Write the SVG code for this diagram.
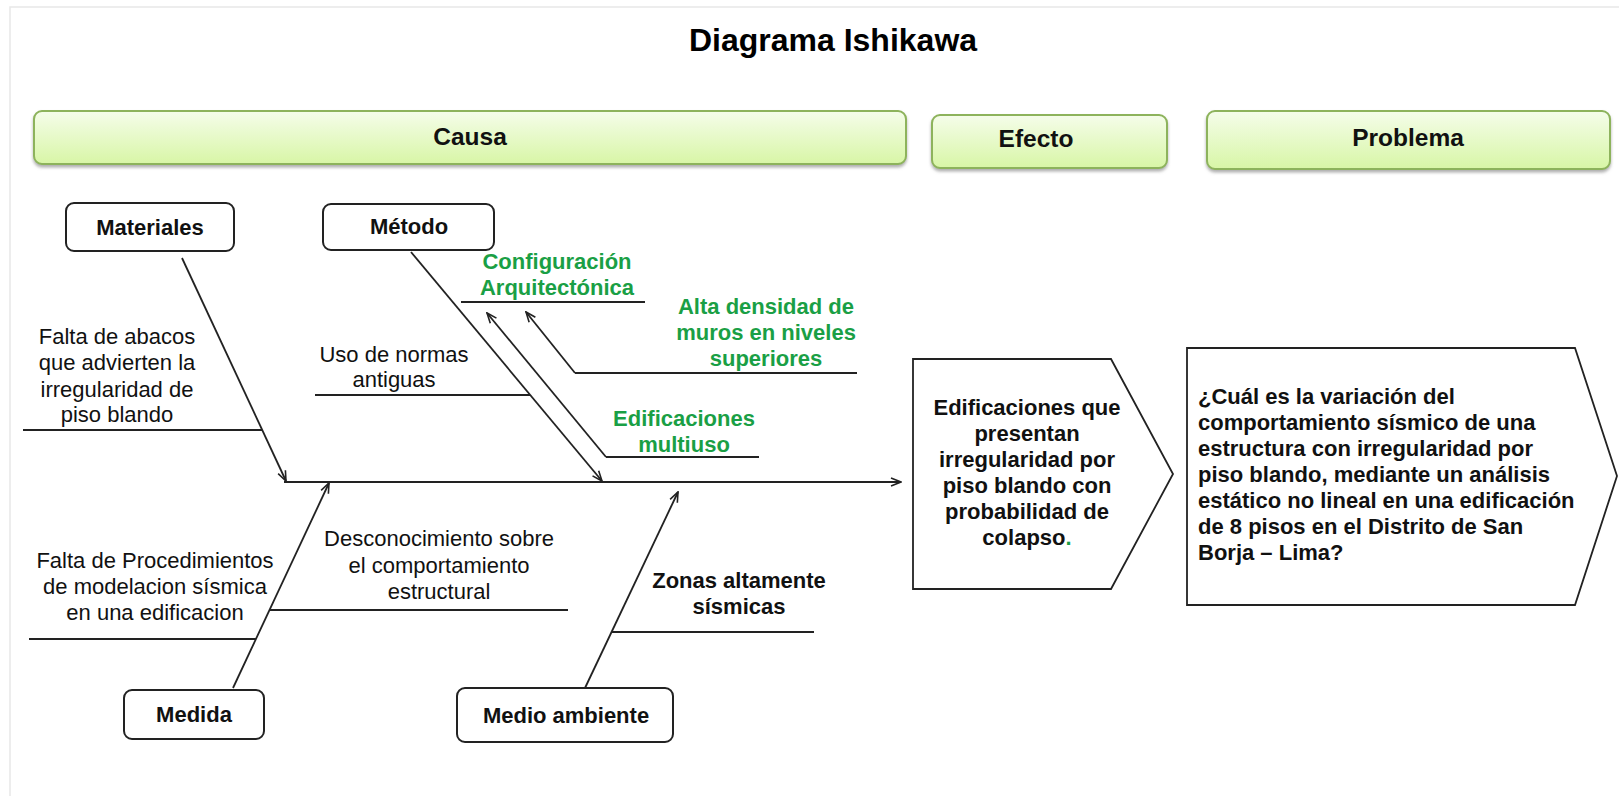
<svg xmlns="http://www.w3.org/2000/svg" width="1619" height="796" viewBox="0 0 1619 796">
  <style>
    text { font-family: "Liberation Sans", Arial, sans-serif; font-size: 22px; fill: #111; }
    .title { font-size: 32px; font-weight: bold; text-anchor: middle; fill: #000; }
    .head { font-size: 24.5px; font-weight: bold; text-anchor: middle; fill: #111; }
    .cat { font-weight: bold; text-anchor: middle; }
    .lbl { text-anchor: middle; }
    .lblb { text-anchor: middle; font-weight: bold; }
    .green { fill: #1a9f45; font-weight: bold; text-anchor: middle; }
    .eff { font-weight: bold; text-anchor: middle; }
    .prob { font-weight: bold; }
    .hbox { fill: url(#hgrad); stroke: #8db35b; stroke-width: 2; filter: url(#shadow); }
    .cbox { fill: #fff; stroke: #222; stroke-width: 2; }
    .shape { fill: #fff; stroke: #222; stroke-width: 1.8; }
    .bone { stroke: #222; stroke-width: 1.8; fill: none; marker-end: url(#arr); }
    .rule { stroke: #222; stroke-width: 1.8; fill: none; }
  </style>
  <defs>
    <linearGradient id="hgrad" x1="0" y1="0" x2="0" y2="1">
      <stop offset="0" stop-color="#f5fdea"/>
      <stop offset="1" stop-color="#d8f6a6"/>
    </linearGradient>
    <filter id="shadow" x="-5%" y="-20%" width="110%" height="160%">
      <feDropShadow dx="0" dy="2.5" stdDeviation="1.5" flood-color="#7a7a7a" flood-opacity="0.6"/>
    </filter>
    <marker id="arr" viewBox="0 0 12 10" refX="11" refY="5" markerWidth="12" markerHeight="10" markerUnits="userSpaceOnUse" orient="auto">
      <path d="M1,1 L11,5 L1,9" fill="none" stroke="#222" stroke-width="1.6"/>
    </marker>
  </defs>

  <rect width="1619" height="796" fill="#fff"/>
  <rect x="10" y="7" width="1620" height="800" fill="none" stroke="#e8e8e8" stroke-width="1.5"/>

  <text class="title" x="833" y="51">Diagrama Ishikawa</text>

  <!-- header bars -->
  <g id="causa">
    <rect class="hbox" x="34" y="111" width="872" height="53" rx="8"/>
    <text class="head" x="470" y="145">Causa</text>
  </g>
  <g id="efecto">
    <rect class="hbox" x="932" y="115" width="235" height="53" rx="8"/>
    <text class="head" x="1036" y="147">Efecto</text>
  </g>
  <g id="problema">
    <rect class="hbox" x="1207" y="111" width="403" height="58" rx="8"/>
    <text class="head" x="1408" y="146">Problema</text>
  </g>

  <!-- spine, bones and sub-cause rules -->
  <g id="connectors">
    <line class="bone" x1="284" y1="482" x2="901" y2="482"/>
    <line class="bone" x1="182" y1="258" x2="286" y2="481"/>
    <line class="bone" x1="411" y1="252" x2="602" y2="481"/>
    <line class="bone" x1="233" y1="688" x2="329" y2="483"/>
    <line class="bone" x1="585" y1="688" x2="678" y2="492"/>
    <line class="bone" x1="606" y1="457" x2="487" y2="313"/>
    <line class="bone" x1="575" y1="373" x2="526" y2="312"/>
    <line class="rule" x1="23" y1="430" x2="262" y2="430"/>
    <line class="rule" x1="315" y1="395" x2="530" y2="395"/>
    <line class="rule" x1="461" y1="302" x2="645" y2="302"/>
    <line class="rule" x1="575" y1="373" x2="857" y2="373"/>
    <line class="rule" x1="606" y1="457" x2="759" y2="457"/>
    <line class="rule" x1="29" y1="639" x2="256" y2="639"/>
    <line class="rule" x1="269" y1="610" x2="568" y2="610"/>
    <line class="rule" x1="611" y1="632" x2="814" y2="632"/>
  </g>

  <!-- category boxes -->
  <g id="materiales">
    <rect class="cbox" x="66" y="203" width="168" height="48" rx="8"/>
    <text class="cat" x="150" y="235">Materiales</text>
  </g>
  <g id="metodo">
    <rect class="cbox" x="323" y="204" width="171" height="46" rx="8"/>
    <text class="cat" x="409" y="234">Método</text>
  </g>
  <g id="medida">
    <rect class="cbox" x="124" y="690" width="140" height="49" rx="8"/>
    <text class="cat" x="194" y="722">Medida</text>
  </g>
  <g id="medio-ambiente">
    <rect class="cbox" x="457" y="688" width="216" height="54" rx="8"/>
    <text class="cat" x="566" y="723">Medio ambiente</text>
  </g>

  <!-- sub-causes -->
  <g id="falta-abacos">
    <text class="lbl" x="117" y="344">Falta de abacos</text>
    <text class="lbl" x="117" y="370">que advierten la</text>
    <text class="lbl" x="117" y="397">irregularidad de</text>
    <text class="lbl" x="117" y="422">piso blando</text>
  </g>
  <g id="uso-normas">
    <text class="lbl" x="394" y="362">Uso de normas</text>
    <text class="lbl" x="394" y="387">antiguas</text>
  </g>
  <g id="configuracion">
    <text class="green" x="557" y="269">Configuración</text>
    <text class="green" x="557" y="295">Arquitectónica</text>
  </g>
  <g id="alta-densidad">
    <text class="green" x="766" y="314">Alta densidad de</text>
    <text class="green" x="766" y="340">muros en niveles</text>
    <text class="green" x="766" y="366">superiores</text>
  </g>
  <g id="multiuso">
    <text class="green" x="684" y="426">Edificaciones</text>
    <text class="green" x="684" y="452">multiuso</text>
  </g>
  <g id="falta-procedimientos">
    <text class="lbl" x="155" y="568">Falta de Procedimientos</text>
    <text class="lbl" x="155" y="594">de modelacion sísmica</text>
    <text class="lbl" x="155" y="620">en una edificacion</text>
  </g>
  <g id="desconocimiento">
    <text class="lbl" x="439" y="546">Desconocimiento sobre</text>
    <text class="lbl" x="439" y="573">el comportamiento</text>
    <text class="lbl" x="439" y="599">estructural</text>
  </g>
  <g id="zonas">
    <text class="lblb" x="739" y="588">Zonas altamente</text>
    <text class="lblb" x="739" y="614">sísmicas</text>
  </g>

  <!-- effect -->
  <g id="efecto-texto">
    <polygon class="shape" points="913,359 1111,359 1173,474 1111,589 913,589"/>
    <text class="eff" x="1027" y="415">Edificaciones que</text>
    <text class="eff" x="1027" y="441">presentan</text>
    <text class="eff" x="1027" y="467">irregularidad por</text>
    <text class="eff" x="1027" y="493">piso blando con</text>
    <text class="eff" x="1027" y="519">probabilidad de</text>
    <text class="eff" x="1027" y="545">colapso<tspan fill="#1a9f45">.</tspan></text>
  </g>

  <!-- problem -->
  <g id="problema-texto">
    <polygon class="shape" points="1187,348 1575,348 1617,476 1575,605 1187,605"/>
    <text class="prob" x="1198" y="404">¿Cuál es la variación del</text>
    <text class="prob" x="1198" y="430">comportamiento sísmico de una</text>
    <text class="prob" x="1198" y="456">estructura con irregularidad por</text>
    <text class="prob" x="1198" y="482">piso blando, mediante un análisis</text>
    <text class="prob" x="1198" y="508">estático no lineal en una edificación</text>
    <text class="prob" x="1198" y="534">de 8 pisos en el Distrito de San</text>
    <text class="prob" x="1198" y="560">Borja – Lima?</text>
  </g>
</svg>
